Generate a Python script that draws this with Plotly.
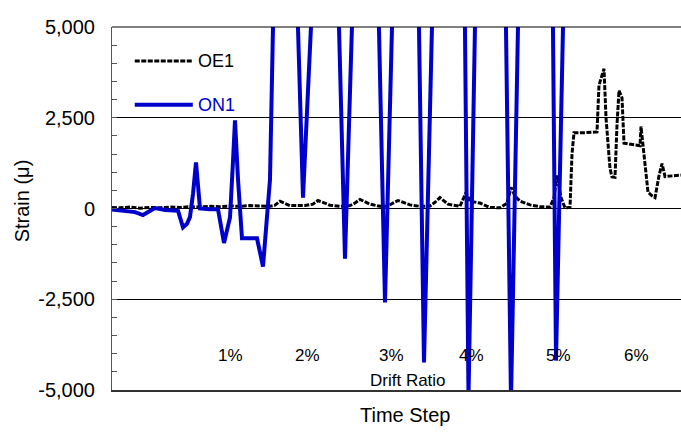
import plotly.graph_objects as go

# ON1 gauge: time step and strain (micro-strain)
on1_step = [0, 26, 46, 62, 76, 86, 106, 132, 142, 150, 156, 162, 168, 172, 176,
            196, 212, 224, 232, 236, 242, 246, 252, 260, 276, 290, 302, 310, 316,
            342, 382, 434, 466, 511, 546, 594, 624, 687, 713, 761, 798, 859, 888, 906]
on1_strain = [-30, -60, -100, -180, -60, 10, -40, -60, -520, -420, -230, 400, 1270, 500, 0,
              -20, -20, -950, -500, -250, 1300, 2430, 800, -820, -820, -820, -1600, -300, 800,
              19000, 300, 15620, -1380, 19300, -2590, 23400, -4240, 32260, -5200, 32630, -5300,
              39700, -4190, 7600]

# OE1 gauge: time step and strain (micro-strain)
oe1_step = [0, 16, 36, 56, 76, 96, 116, 136, 156, 176, 196, 216, 236, 256, 276, 316,
            326, 336, 356, 376, 386, 402, 412, 436, 456, 476, 486, 496, 516, 536, 552,
            562, 572, 596, 616, 636, 646, 656, 672, 696, 702, 708, 716, 726, 736, 756,
            776, 790, 798, 806, 816, 836, 856, 876, 884, 890, 898, 906, 916, 920, 924,
            946, 970, 974, 980, 984, 988, 996, 1000, 1006, 1010, 1014, 1020, 1024, 1046,
            1056, 1058, 1064, 1072, 1080, 1086, 1094, 1100, 1106, 1120, 1138]
oe1_strain = [30, 20, 40, 10, 30, 20, 40, 30, 50, 40, 60, 50, 70, 60, 80, 60,
              90, 200, 80, 90, 80, 120, 220, 90, 60, 80, 150, 250, 120, 60, 70,
              150, 220, 100, 60, 70, 170, 300, 120, 60, 250, 440, 200, 180, 150, 30,
              20, 150, 580, 350, 200, 100, 50, 40, 300, 910, 300, 20, 30, 1500, 2090,
              2090, 2110, 3400, 3700, 3850, 2500, 1100, 870, 860, 2300, 3250, 3050, 1800, 1750,
              1730, 2260, 1500, 450, 350, 300, 900, 1240, 880, 900, 920]

# Y-axis ticks
y_ticks = [-5000, -2500, 0, 2500, 5000]
y_tick_text = ["-5,000", "-2,500", "0", "2,500", "5,000"]

# Drift ratio cycle labels and their time steps
drift_labels = ["1%", "2%", "3%", "4%", "5%", "6%"]
drift_steps = [236, 390, 558, 718, 892, 1048]

BLUE = "#0000CC"
FONT = "Liberation Sans, Arial, sans-serif"
DASH = "5px,1.5px"

fig = go.Figure()
fig.add_trace(go.Scatter(x=oe1_step, y=oe1_strain, mode="lines", name="OE1",
                         line=dict(color="black", width=3, dash=DASH),
                         showlegend=False))
fig.add_trace(go.Scatter(x=on1_step, y=on1_strain, mode="lines", name="ON1",
                         line=dict(color=BLUE, width=4), showlegend=False))

# legend samples
fig.add_shape(type="line", xref="paper", yref="paper", x0=0.040, x1=0.142, y0=0.906, y1=0.906,
              line=dict(color="black", width=3, dash=DASH))
fig.add_shape(type="line", xref="paper", yref="paper", x0=0.040, x1=0.142, y0=0.786, y1=0.786,
              line=dict(color=BLUE, width=4))
fig.add_annotation(text="OE1", xref="paper", yref="paper", x=0.148, y=0.906,
                   xanchor="left", yanchor="middle", showarrow=False,
                   font=dict(family=FONT, size=18, color="black"))
fig.add_annotation(text="ON1", xref="paper", yref="paper", x=0.148, y=0.786,
                   xanchor="left", yanchor="middle", showarrow=False,
                   font=dict(family=FONT, size=18, color=BLUE))

for lab, st in zip(drift_labels, drift_steps):
    fig.add_annotation(text=lab, x=st, xref="x", yref="paper", y=0.096,
                       xanchor="center", yanchor="middle", showarrow=False,
                       font=dict(family=FONT, size=17, color="black"))
fig.add_annotation(text="Drift Ratio", x=592, xref="x", yref="paper", y=0.025,
                   xanchor="center", yanchor="middle", showarrow=False,
                   font=dict(family=FONT, size=17, color="black"))
fig.add_annotation(text="Time Step", x=586, xref="x", yref="paper", y=-0.069,
                   xanchor="center", yanchor="middle", showarrow=False,
                   font=dict(family=FONT, size=20, color="black"))
fig.add_annotation(text="Strain (\u03bc)", xref="paper", yref="paper", x=-0.158, y=0.52,
                   xanchor="center", yanchor="middle", textangle=-90, showarrow=False,
                   font=dict(family=FONT, size=20, color="black"))

# top frame line
fig.add_shape(type="line", xref="paper", yref="paper", x0=0, x1=1, y0=1, y1=1,
              line=dict(color="black", width=1))

fig.update_layout(
    width=681, height=432,
    margin=dict(l=112, r=0, t=27, b=42),
    paper_bgcolor="white", plot_bgcolor="white",
    font=dict(family=FONT, color="black"),
    xaxis=dict(range=[0, 1138], showticklabels=False, ticks="", showgrid=False,
               zeroline=False, showline=True, linecolor="#333333", linewidth=2),
    yaxis=dict(range=[-5000, 5000], tickvals=y_ticks, ticktext=y_tick_text,
               tickfont=dict(family=FONT, size=20, color="black"),
               ticks="inside", ticklen=5, tickcolor="#555555",
               ticklabelstandoff=12,
               minor=dict(dtick=500, ticks="inside", ticklen=5, tickcolor="#555555", showgrid=False),
               showgrid=True, gridcolor="black", gridwidth=1,
               zeroline=True, zerolinecolor="black", zerolinewidth=1,
               showline=True, linecolor="#555555", linewidth=1),
)

fig.write_html("out.html")
